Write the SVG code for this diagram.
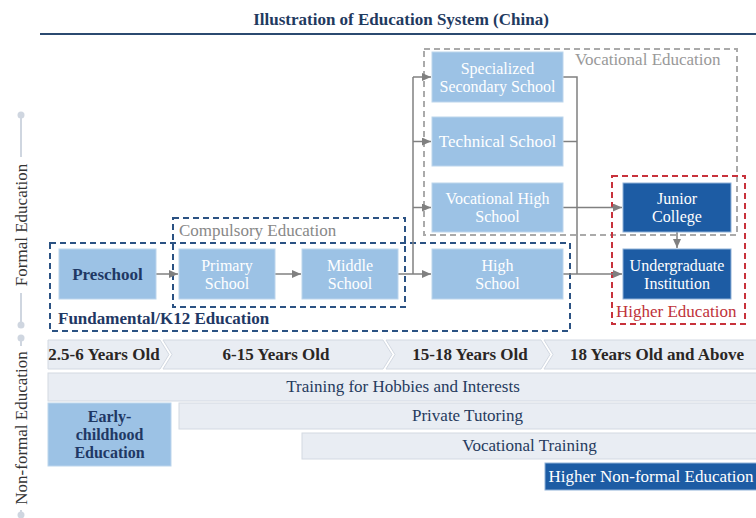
<svg xmlns="http://www.w3.org/2000/svg" width="756" height="518" viewBox="0 0 756 518" font-family="Liberation Serif, Times New Roman, serif">
<defs>
<marker id="arr" markerUnits="userSpaceOnUse" markerWidth="9" markerHeight="8" refX="9" refY="4" orient="auto">
<path d="M0,0 L9,4 L0,8 Z" fill="#808080"/>
</marker>
<style>
.lt{fill:#9cc2e5;stroke:#bcd5ec;stroke-width:1;}
.dk{fill:#1d5ca4;stroke:#8fb1d8;stroke-width:1;}
.wt{fill:#ffffff;font-size:17px;text-anchor:middle;}
.w2{fill:#ffffff;font-size:16px;text-anchor:middle;}
.bt{fill:#1f3864;font-size:17px;font-weight:bold;text-anchor:middle;}
.b2{fill:#1f3864;font-size:16px;font-weight:bold;text-anchor:middle;}
.grp{fill:none;stroke-width:2;stroke-dasharray:6,4;}
.con{fill:none;stroke:#808080;stroke-width:1.5;}
.age{fill:#e9edf3;stroke:#d3d9e2;stroke-width:1;}
.agt{fill:#2a2624;font-size:17px;font-weight:bold;text-anchor:middle;}
.bar{fill:#e9edf3;stroke:#d3d9e2;stroke-width:1;}
.bat{fill:#263b5e;font-size:17px;text-anchor:middle;}
.side{fill:#333333;font-size:17px;text-anchor:middle;}
.axl{stroke:#cfd6e0;stroke-width:2;}
</style>
</defs>
<rect width="756" height="518" fill="#ffffff"/>

<g id="title">
<text x="401" y="25" fill="#1f3a5f" font-size="17" font-weight="bold" text-anchor="middle">Illustration of Education System (China)</text>
<line x1="40" y1="34" x2="756" y2="34" stroke="#2b4a70" stroke-width="2"/>
</g>

<g id="side-axis">
<circle cx="21" cy="115" r="3.5" fill="#cfd6e0"/>
<line class="axl" x1="21" y1="115" x2="21" y2="157"/>
<text class="side" transform="translate(27,225) rotate(-90)">Formal Education</text>
<line class="axl" x1="21" y1="293" x2="21" y2="325"/>
<circle cx="21" cy="325" r="3.5" fill="#cfd6e0"/>
<circle cx="21" cy="338" r="3.5" fill="#cfd6e0"/>
<line class="axl" x1="21" y1="338" x2="21" y2="346"/>
<text class="side" transform="translate(27,428) rotate(-90)">Non-formal Education</text>
<line class="axl" x1="21" y1="510" x2="21" y2="515"/>
<circle cx="21" cy="515" r="3.5" fill="#cfd6e0"/>
</g>

<g id="group-vocational">
<rect class="grp" x="424" y="49" width="313" height="186" stroke="#aaaaaa"/>
<text x="575" y="65" fill="#999999" font-size="17">Vocational Education</text>
</g>
<g id="group-fundamental">
<rect class="grp" x="50" y="243" width="520" height="88" stroke="#2b5283"/>
<text x="58" y="324" fill="#1f3864" font-size="17" font-weight="bold">Fundamental/K12 Education</text>
</g>
<g id="group-compulsory">
<rect class="grp" x="173" y="218" width="232" height="89" stroke="#2b5283"/>
<text x="179" y="236" fill="#888888" font-size="17">Compulsory Education</text>
</g>
<g id="group-higher">
<rect class="grp" x="612" y="176" width="133" height="148" stroke="#c8323c"/>
<text x="616" y="317" fill="#c0323a" font-size="17">Higher Education</text>
</g>

<g id="connectors">
<path class="con" d="M156,274 H178" marker-end="url(#arr)"/>
<path class="con" d="M275,274 H301" marker-end="url(#arr)"/>
<path class="con" d="M398,274 H431" marker-end="url(#arr)"/>
<path class="con" d="M413,274 V77"/>
<path class="con" d="M413,77 H431" marker-end="url(#arr)"/>
<path class="con" d="M413,141.5 H431" marker-end="url(#arr)"/>
<path class="con" d="M413,207.5 H431" marker-end="url(#arr)"/>
<path class="con" d="M563,77 H577 V274"/>
<path class="con" d="M563,141.5 H577"/>
<path class="con" d="M563,207.5 H622" marker-end="url(#arr)"/>
<path class="con" d="M563,274 H622" marker-end="url(#arr)"/>
<path class="con" d="M677,232 V248" marker-end="url(#arr)"/>
</g>

<g id="preschool">
<rect class="lt" x="59" y="249" width="97" height="50"/>
<text class="bt" x="107.5" y="280">Preschool</text>
</g>
<g id="primary-school">
<rect class="lt" x="179" y="249" width="96" height="50"/>
<text class="w2" x="227" y="270.5">Primary</text>
<text class="w2" x="227" y="288.5">School</text>
</g>
<g id="middle-school">
<rect class="lt" x="302" y="249" width="96" height="50"/>
<text class="w2" x="350" y="270.5">Middle</text>
<text class="w2" x="350" y="288.5">School</text>
</g>
<g id="specialized-secondary-school">
<rect class="lt" x="432" y="52" width="131" height="50"/>
<text class="w2" x="497.5" y="73.5">Specialized</text>
<text class="w2" x="497.5" y="91.5">Secondary School</text>
</g>
<g id="technical-school">
<rect class="lt" x="432" y="117" width="131" height="49"/>
<text class="wt" x="497.5" y="147">Technical School</text>
</g>
<g id="vocational-high-school">
<rect class="lt" x="432" y="183" width="131" height="49"/>
<text class="w2" x="497.5" y="204">Vocational High</text>
<text class="w2" x="497.5" y="222">School</text>
</g>
<g id="high-school">
<rect class="lt" x="432" y="249" width="131" height="50"/>
<text class="w2" x="497.5" y="270.5">High</text>
<text class="w2" x="497.5" y="288.5">School</text>
</g>
<g id="junior-college">
<rect class="dk" x="623" y="183" width="108" height="49"/>
<text class="w2" x="677" y="204">Junior</text>
<text class="w2" x="677" y="222">College</text>
</g>
<g id="undergraduate-institution">
<rect class="dk" x="623" y="249" width="108" height="50"/>
<text class="w2" x="677" y="270.5">Undergraduate</text>
<text class="w2" x="677" y="288.5">Institution</text>
</g>

<g id="age-band">
<polygon class="age" points="48,340 160,340 169,354.5 160,369 48,369"/>
<polygon class="age" points="163,340 383,340 392,354.5 383,369 163,369 172,354.5"/>
<polygon class="age" points="386,340 541,340 550,354.5 541,369 386,369 395,354.5"/>
<polygon class="age" points="544,340 757,340 757,369 544,369 553,354.5"/>
<text class="agt" x="104" y="360">2.5-6 Years Old</text>
<text class="agt" x="276" y="360">6-15 Years Old</text>
<text class="agt" x="470" y="360">15-18 Years Old</text>
<text class="agt" x="657" y="360">18 Years Old and Above</text>
</g>

<g id="training-hobbies">
<rect class="bar" x="48" y="373" width="709" height="28"/>
<text class="bat" x="403" y="392">Training for Hobbies and Interests</text>
</g>
<g id="early-childhood">
<rect class="lt" x="48" y="403" width="123" height="63"/>
<text class="b2" x="109.5" y="422">Early-</text>
<text class="b2" x="109.5" y="440">childhood</text>
<text class="b2" x="109.5" y="458">Education</text>
</g>
<g id="private-tutoring">
<rect class="bar" x="179" y="403" width="578" height="26"/>
<text class="bat" x="467.5" y="421">Private Tutoring</text>
</g>
<g id="vocational-training">
<rect class="bar" x="302" y="433" width="455" height="26"/>
<text class="bat" x="529.5" y="451">Vocational Training</text>
</g>
<g id="higher-nonformal">
<rect x="545" y="463" width="212" height="27" fill="#1d5ca4" stroke="#8fb1d8" stroke-width="1"/>
<text class="wt" x="651" y="482">Higher Non-formal Education</text>
</g>
</svg>
